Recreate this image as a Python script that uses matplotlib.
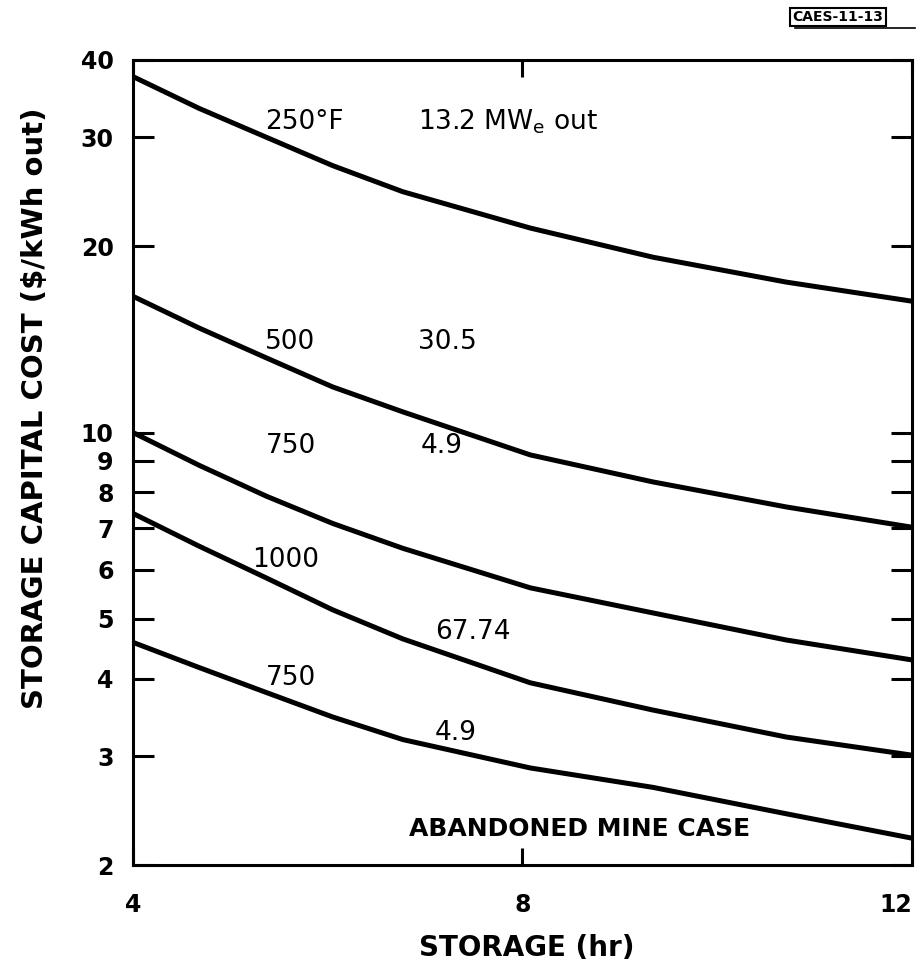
import numpy as np
import matplotlib.pyplot as plt
from matplotlib.ticker import FixedLocator, FixedFormatter, NullLocator

# storage hours where the curves were read
hours = [4.0, 4.68, 5.37, 6.05, 6.77, 8.08, 9.34, 10.71, 12.0]

# storage capital cost ($/kWh out) for each case
cost_250 = [37.6, 33.4, 30.0, 27.0, 24.5, 21.4, 19.2, 17.5, 16.3]
cost_500 = [16.6, 14.75, 13.2, 11.85, 10.8, 9.2, 8.32, 7.58, 7.03]
cost_750a = [10.0, 8.85, 7.89, 7.13, 6.5, 5.61, 5.11, 4.62, 4.29]
cost_1000 = [7.40, 6.55, 5.82, 5.17, 4.64, 3.94, 3.56, 3.22, 3.01]
cost_750b = [4.58, 4.17, 3.80, 3.47, 3.19, 2.87, 2.67, 2.42, 2.21]

y_ticks = [2, 3, 4, 5, 6, 7, 8, 9, 10, 20, 30, 40]
y_labels = ["2", "3", "4", "5", "6", "7", "8", "9", "10", "20", "30", "40"]
x_ticks = [4, 8, 12]
x_labels = ["4", "8", "12"]

plt.rcParams["font.family"] = ["DejaVu Sans"]

fig = plt.figure(figsize=(9.19, 9.75), dpi=100)
ax = fig.add_axes([0.1447, 0.1128, 0.8477, 0.8257])

for c in [cost_250, cost_500, cost_750a, cost_1000, cost_750b]:
    ax.plot(hours, c, color="black", lw=3.6, solid_capstyle="butt",
            solid_joinstyle="round")

ax.set_yscale("log")
ax.set_xlim(4, 12)
ax.set_ylim(2, 40)

ax.yaxis.set_major_locator(FixedLocator(y_ticks))
ax.yaxis.set_major_formatter(FixedFormatter(y_labels))
ax.yaxis.set_minor_locator(NullLocator())
ax.xaxis.set_major_locator(FixedLocator(x_ticks))
ax.xaxis.set_major_formatter(FixedFormatter(x_labels))

ax.tick_params(axis="y", direction="in", length=15, width=2.2, right=True,
               labelsize=17, pad=14)
ax.tick_params(axis="x", direction="in", length=12, width=2.2, top=True,
               labelsize=17, pad=20)
for lab in ax.get_xticklabels() + ax.get_yticklabels():
    lab.set_fontweight("bold")
ax.get_xticklabels()[-1].set_horizontalalignment("right")
for s in ax.spines.values():
    s.set_linewidth(2.2)

fs = 19
ax.text(5.36, 31.8, "250°F", fontsize=fs, va="center")
ax.text(6.93, 31.8, "13.2 MW$_\\mathregular{e}$ out", fontsize=fs, va="center")
ax.text(5.36, 14.0, "500", fontsize=fs, va="center")
ax.text(6.93, 14.0, "30.5", fontsize=fs, va="center")
ax.text(5.36, 9.5, "750", fontsize=fs, va="center")
ax.text(6.95, 9.5, "4.9", fontsize=fs, va="center")
ax.text(5.22, 6.22, "1000", fontsize=fs, va="center")
ax.text(7.1, 4.76, "67.74", fontsize=fs, va="center")
ax.text(5.36, 4.01, "750", fontsize=fs, va="center")
ax.text(7.1, 3.27, "4.9", fontsize=fs, va="center")
ax.text(6.83, 2.29, "ABANDONED MINE CASE", fontsize=18, fontweight="bold",
        va="center")

fig.text(35 / 919, 1 - 408 / 975, "STORAGE CAPITAL COST ($/kWh out)",
         rotation=90, fontsize=21, fontweight="bold", ha="center", va="center")
fig.text(527 / 919, 1 - 948 / 975, "STORAGE (hr)", fontsize=20,
         fontweight="bold", ha="center", va="center")

fig.text(838 / 919, 1 - 17 / 975, "CAES-11-13", fontsize=10, fontweight="bold",
         ha="center", va="center",
         bbox=dict(boxstyle="square,pad=0.15", fc="white", ec="black", lw=1.5))
fig.add_artist(plt.Line2D([795 / 919, 915 / 919], [1 - 28 / 975, 1 - 28 / 975],
                          color="black", lw=1.2))

fig.savefig("out.png", dpi=100)
